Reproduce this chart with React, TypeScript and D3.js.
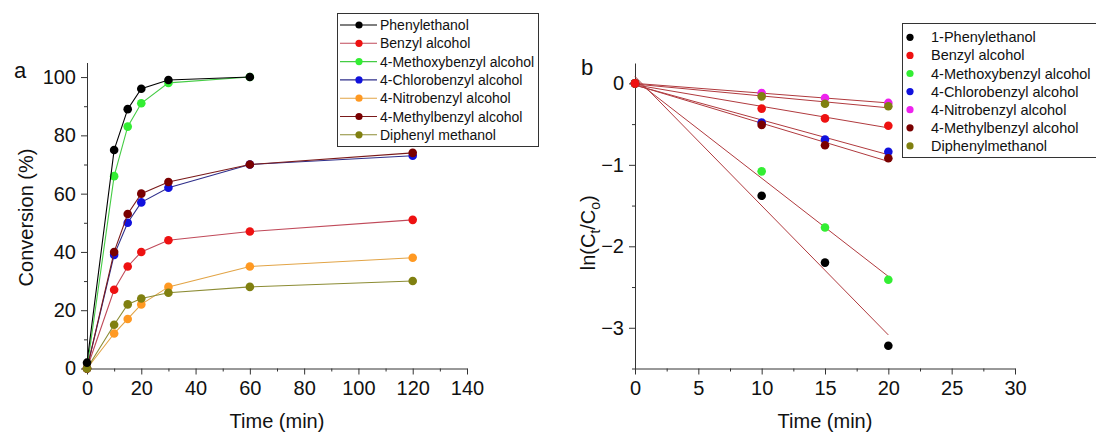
import * as d3 from "d3";
import { useRef, useEffect } from "react";

// panel a: conversion vs time
const timeA = [0, 10, 15, 20, 30, 60, 120];
const phenylethanolA = [2, 75, 89, 96, 99, 100];
const benzylA = [0, 27, 35, 40, 44, 47, 51];
const methoxyA = [0, 66, 83, 91, 98, 100];
const chloroA = [0, 39, 50, 57, 62, 70, 73];
const nitroA = [0, 12, 17, 22, 28, 35, 38];
const methylA = [0, 40, 53, 60, 64, 70, 74];
const diphenylA = [0, 15, 22, 24, 26, 28, 30];

// panel b: ln(Ct/Co) vs time
const timeB = [0, 10, 15, 20];
const phenylethanolB = [0, -1.38, -2.2, -3.22];
const benzylB = [0, -0.31, -0.43, -0.52];
const methoxyB = [0, -1.08, -1.77, -2.41];
const chloroB = [0, -0.48, -0.69, -0.84];
const nitroB = [0, -0.12, -0.18, -0.24];
const methylB = [0, -0.51, -0.76, -0.92];
const diphenylB = [0, -0.16, -0.25, -0.28];

const namesA = ["Phenylethanol", "Benzyl alcohol", "4-Methoxybenzyl alcohol", "4-Chlorobenzyl alcohol", "4-Nitrobenzyl alcohol", "4-Methylbenzyl alcohol", "Diphenyl methanol"];
const namesB = ["1-Phenylethanol", "Benzyl alcohol", "4-Methoxybenzyl alcohol", "4-Chlorobenzyl alcohol", "4-Nitrobenzyl alcohol", "4-Methylbenzyl alcohol", "Diphenylmethanol"];
const dotColors = ["#000000", "#ee1111", "#33ee33", "#1111dd", "#ff9922", "#7a0000", "#808010"];
const lineColors = ["#000000", "#c04a5a", "#44cc44", "#2e2e8a", "#e2a446", "#7a1a1a", "#8c8c34"];
const dotColorsB = ["#000000", "#ee1111", "#33ee33", "#1111dd", "#ee22ee", "#7a0000", "#808010"];

const ticksA_x = [0, 20, 40, 60, 80, 100, 120, 140];
const ticksA_y = [0, 20, 40, 60, 80, 100];
const ticksB_x = [0, 5, 10, 15, 20, 25, 30];
const ticksB_y = [0, -1, -2, -3];

const FONT = "'Liberation Sans', Arial, sans-serif";
const AXIS = "#333";

function styleAxis(g: d3.Selection<SVGGElement, unknown, null, undefined>) {
  g.attr("font-size", 20).attr("font-family", FONT);
  g.select(".domain").attr("stroke", AXIS);
  g.selectAll(".tick line").attr("stroke", AXIS);
  g.selectAll(".tick text").attr("fill", "#111");
}

function linearFit(xs: number[], ys: number[]) {
  const mx = d3.mean(xs) as number;
  const my = d3.mean(ys) as number;
  const sxy = d3.sum(xs, (x, i) => (x - mx) * (ys[i] - my));
  const sxx = d3.sum(xs, (x) => (x - mx) * (x - mx));
  const slope = sxy / sxx;
  return { slope, intercept: my - slope * mx };
}

export default function App() {
  const gxA = useRef<SVGGElement | null>(null);
  const gyA = useRef<SVGGElement | null>(null);
  const gxB = useRef<SVGGElement | null>(null);
  const gyB = useRef<SVGGElement | null>(null);

  const width = 1096;
  const height = 432;

  const xA = d3.scaleLinear([0, 140], [87, 467]);
  const yA = d3.scaleLinear([0, 105], [368.5, 62.5]);
  const xB = d3.scaleLinear([0, 30], [635, 1015]);
  const yB = d3.scaleLinear([-3.5, 0.25], [368.5, 63]);

  const seriesA = [phenylethanolA, benzylA, methoxyA, chloroA, nitroA, methylA, diphenylA];
  const seriesB = [phenylethanolB, benzylB, methoxyB, chloroB, nitroB, methylB, diphenylB];
  // phenylethanol sits on top in the original
  const drawOrderA = [1, 2, 3, 4, 5, 6, 0];

  const line = d3.line<[number, number]>((d) => xA(d[0]), (d) => yA(d[1]));

  useEffect(() => {
    if (gxA.current) {
      const g = d3.select(gxA.current);
      g.selectAll("*").remove();
      g.append("g").call(d3.axisBottom(xA).tickValues([10, 30, 50, 70, 90, 110, 130]).tickSize(3).tickFormat(() => "")).select(".domain").remove();
      g.append("g").call(d3.axisBottom(xA).tickValues(ticksA_x).tickSize(6).tickPadding(6).tickSizeOuter(0)).call(styleAxis);
      g.selectAll("line").attr("stroke", AXIS);
    }
    if (gyA.current) {
      const g = d3.select(gyA.current);
      g.selectAll("*").remove();
      g.append("g").call(d3.axisLeft(yA).tickValues([10, 30, 50, 70, 90]).tickSize(3).tickFormat(() => "")).select(".domain").remove();
      g.append("g").call(d3.axisLeft(yA).tickValues(ticksA_y).tickSize(6).tickPadding(5).tickSizeOuter(0)).call(styleAxis);
      g.selectAll("line").attr("stroke", AXIS);
    }
    if (gxB.current) {
      const g = d3.select(gxB.current);
      g.selectAll("*").remove();
      g.append("g").call(d3.axisBottom(xB).tickValues([2.5, 7.5, 12.5, 17.5, 22.5, 27.5]).tickSize(3).tickFormat(() => "")).select(".domain").remove();
      g.append("g").call(d3.axisBottom(xB).tickValues(ticksB_x).tickSize(6).tickPadding(6).tickSizeOuter(0)).call(styleAxis);
      g.selectAll("line").attr("stroke", AXIS);
    }
    if (gyB.current) {
      const g = d3.select(gyB.current);
      g.selectAll("*").remove();
      g.append("g").call(d3.axisLeft(yB).tickValues([-0.5, -1.5, -2.5, -3.5]).tickSize(3).tickFormat(() => "")).select(".domain").remove();
      g.append("g").call(d3.axisLeft(yB).tickValues(ticksB_y).tickSize(6).tickPadding(5).tickSizeOuter(0).tickFormat(d3.format("d"))).call(styleAxis);
      g.selectAll("line").attr("stroke", AXIS);
    }
  }, []);

  return (
    <>
      <style>{`body{margin:0}`}</style>
      <svg width={width} height={height} style={{ display: "block", background: "#fff" }} fontFamily={FONT}>
        {/* ---------- panel a ---------- */}
        <g ref={gxA} transform={`translate(0,${yA(0)})`} />
        <g ref={gyA} transform={`translate(${xA(0)},0)`} />
        {drawOrderA.map((k) => {
          const pts = seriesA[k].map((v, i) => [timeA[i], v] as [number, number]);
          return (
            <g key={namesA[k]}>
              <path d={line(pts) as string} fill="none" stroke={lineColors[k]} strokeWidth={1.1} />
              {pts.map((p, i) => (
                <circle key={i} cx={xA(p[0])} cy={yA(p[1])} r={4.3} fill={dotColors[k]} />
              ))}
            </g>
          );
        })}
        <text x={14} y={78} fontSize={22} fill="#111">a</text>
        <text transform={`translate(33,${(yA(0) + yA(105)) / 2 + 2}) rotate(-90)`} textAnchor="middle" fontSize={20} fill="#111">Conversion (%)</text>
        <text x={(xA(0) + xA(140)) / 2} y={428} textAnchor="middle" fontSize={20} fill="#111">Time (min)</text>

        {/* legend a */}
        <rect x={337.5} y={13.5} width={201} height={133} fill="#fff" stroke={AXIS} strokeWidth={1} />
        {namesA.map((name, k) => {
          const cy = 25 + k * 18.3;
          return (
            <g key={name}>
              <line x1={340} x2={377} y1={cy} y2={cy} stroke={lineColors[k]} strokeWidth={1.1} />
              <circle cx={359} cy={cy} r={3.6} fill={dotColors[k]} />
              <text x={380} y={cy + 5} fontSize={14} fill="#111">{name}</text>
            </g>
          );
        })}

        {/* ---------- panel b ---------- */}
        <g ref={gxB} transform={`translate(0,${yB(-3.5)})`} />
        <g ref={gyB} transform={`translate(${xB(0)},0)`} />
        {seriesB.map((vals, k) => {
          const fit = linearFit(timeB, vals);
          return (
            <line
              key={"fit" + k}
              x1={xB(0)}
              y1={yB(fit.intercept)}
              x2={xB(20)}
              y2={yB(fit.intercept + fit.slope * 20)}
              stroke="#b03a3e"
              strokeWidth={1}
            />
          );
        })}
        {seriesB.map((vals, k) => (
          <g key={namesB[k]}>
            {vals.map((v, i) => (
              <circle key={i} cx={xB(timeB[i])} cy={yB(v)} r={4.3} fill={dotColorsB[k]} />
            ))}
          </g>
        ))}
        <circle cx={xB(timeB[0])} cy={yB(benzylB[0])} r={4.3} fill={dotColorsB[1]} />
        <text x={581} y={75} fontSize={22} fill="#111">b</text>
        <text transform={`translate(595,${(yB(-3.5) + yB(0.25)) / 2 + 17}) rotate(-90)`} textAnchor="middle" fontSize={20} fill="#111">
          ln(C<tspan fontSize={14} dy={5}>t</tspan><tspan dy={-5}>/C</tspan><tspan fontSize={14} dy={5}>o</tspan><tspan dy={-5}>)</tspan>
        </text>
        <text x={(xB(0) + xB(30)) / 2} y={428} textAnchor="middle" fontSize={20} fill="#111">Time (min)</text>

        {/* legend b */}
        <rect x={902.5} y={23.5} width={200} height={134} fill="#fff" stroke={AXIS} strokeWidth={1} />
        {namesB.map((name, k) => {
          const cy = 37.3 + k * 18.1;
          return (
            <g key={name}>
              <circle cx={910} cy={cy} r={3.6} fill={dotColorsB[k]} />
              <text x={931} y={cy + 5} fontSize={14.5} fill="#111">{name}</text>
            </g>
          );
        })}
      </svg>
    </>
  );
}
